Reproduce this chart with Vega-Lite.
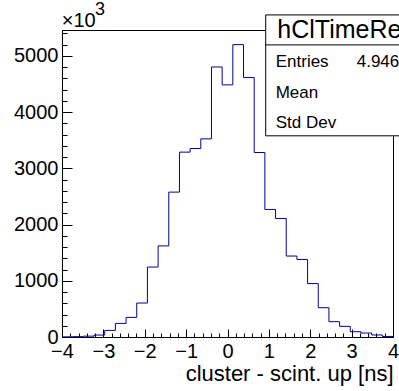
{
  "$schema": "https://vega.github.io/schema/vega-lite/v6.json",
  "width": 331,
  "height": 307,
  "autosize": {"type": "none"},
  "padding": {"left": 62, "top": 30, "right": 6, "bottom": 54},
  "background": "white",
  "config": {
    "font": "Liberation Sans",
    "view": {"stroke": "black", "strokeWidth": 1},
    "axis": {"grid": false, "domainColor": "black", "tickColor": "black", "labelColor": "black", "titleColor": "black", "labelFont": "Liberation Sans", "titleFont": "Liberation Sans", "labelOverlap": false, "labelFlush": false}
  },
  "resolve": {"axis": {"x": "independent", "y": "independent"}},
  "layer": [
    {
      "layer": [
        {
          "data": {"values": [
            {"lo": -4.0, "hi": -3.7419, "n": 3},
            {"lo": -3.7419, "hi": -3.4839, "n": 6},
            {"lo": -3.4839, "hi": -3.2258, "n": 15},
            {"lo": -3.2258, "hi": -2.9677, "n": 35},
            {"lo": -2.9677, "hi": -2.7097, "n": 117},
            {"lo": -2.7097, "hi": -2.4516, "n": 242},
            {"lo": -2.4516, "hi": -2.1935, "n": 349},
            {"lo": -2.1935, "hi": -1.9355, "n": 604},
            {"lo": -1.9355, "hi": -1.6774, "n": 1244},
            {"lo": -1.6774, "hi": -1.4194, "n": 1620},
            {"lo": -1.4194, "hi": -1.1613, "n": 2577},
            {"lo": -1.1613, "hi": -0.9032, "n": 3288},
            {"lo": -0.9032, "hi": -0.6452, "n": 3352},
            {"lo": -0.6452, "hi": -0.3871, "n": 3524},
            {"lo": -0.3871, "hi": -0.129, "n": 4802},
            {"lo": -0.129, "hi": 0.129, "n": 4484},
            {"lo": 0.129, "hi": 0.3871, "n": 5200},
            {"lo": 0.3871, "hi": 0.6452, "n": 4614},
            {"lo": 0.6452, "hi": 0.9032, "n": 3281},
            {"lo": 0.9032, "hi": 1.1613, "n": 2268},
            {"lo": 1.1613, "hi": 1.4194, "n": 2108},
            {"lo": 1.4194, "hi": 1.6774, "n": 1440},
            {"lo": 1.6774, "hi": 1.9355, "n": 1379},
            {"lo": 1.9355, "hi": 2.1935, "n": 950},
            {"lo": 2.1935, "hi": 2.4516, "n": 521},
            {"lo": 2.4516, "hi": 2.7097, "n": 272},
            {"lo": 2.7097, "hi": 2.9677, "n": 189},
            {"lo": 2.9677, "hi": 3.2258, "n": 94},
            {"lo": 3.2258, "hi": 3.4839, "n": 71},
            {"lo": 3.4839, "hi": 3.7419, "n": 36},
            {"lo": 3.7419, "hi": 4.0, "n": 10}
          ]},
          "transform": [{"fold": ["lo", "hi"], "as": ["edge", "xpos"]}],
          "mark": {"type": "line", "color": "#000099", "strokeWidth": 1},
          "encoding": {
            "x": {
              "field": "xpos", "type": "quantitative",
              "scale": {"domain": [-4, 4], "nice": false, "zero": false},
              "axis": {
                "orient": "bottom",
                "values": [-4, -3, -2, -1, 0, 1, 2, 3, 4],
                "labelExpr": "datum.value < 0 ? '\u2212' + abs(datum.value) : '' + datum.value",
                "tickSize": -8,
                "labelOverlap": false,
                "labelFlush": false,
                "labelBound": false,
                "labelFontSize": 20,
                "labelPadding": 12,
                "title": "cluster - scint. up [ns]",
                "titleFontSize": 22,
                "titleFontWeight": "normal",
                "titleAnchor": "end",
                "titleAlign": "right",
                "titleBaseline": "alphabetic",
                "titleX": 331,
                "titleY": 43
              }
            },
            "y": {
              "field": "n", "type": "quantitative",
              "scale": {"domain": [0, 5460], "nice": false},
              "axis": {
                "orient": "left",
                "values": [0, 1000, 2000, 3000, 4000, 5000],
                "labelExpr": "'' + datum.value",
                "tickSize": -10,
                "labelOverlap": false,
                "labelFlush": false,
                "labelBound": false,
                "labelFontSize": 20,
                "labelPadding": 14,
                "title": null
              }
            },
            "order": {"value": null}
          }
        },
        {
          "data": {"values": [{}]},
          "mark": {"type": "rect", "fill": "white", "stroke": "black", "strokeWidth": 1, "clip": false},
          "encoding": {
            "x": {"datum": 0.923, "type": "quantitative"},
            "x2": {"datum": 4.8},
            "y": {"datum": 5728, "type": "quantitative"},
            "y2": {"datum": 3578}
          }
        },
        {
          "data": {"values": [{}]},
          "mark": {"type": "rule", "color": "black", "strokeWidth": 1},
          "encoding": {
            "x": {"datum": 0.923, "type": "quantitative"},
            "x2": {"datum": 4.8},
            "y": {"datum": 5195, "type": "quantitative"}
          }
        },
        {
          "data": {"values": [{"label": "hClTimeResUp"}]},
          "mark": {"type": "text", "align": "left", "baseline": "alphabetic", "fontSize": 25, "color": "black"},
          "encoding": {
            "x": {"datum": 1.204, "type": "quantitative"},
            "y": {"datum": 5320, "type": "quantitative"},
            "text": {"field": "label"}
          }
        },
        {
          "data": {"values": [{"label": "Entries"}]},
          "mark": {"type": "text", "align": "left", "baseline": "alphabetic", "fontSize": 17, "color": "black"},
          "encoding": {
            "x": {"datum": 1.165, "type": "quantitative"},
            "y": {"datum": 4809, "type": "quantitative"},
            "text": {"field": "label"}
          }
        },
        {
          "data": {"values": [{"label": "Mean"}]},
          "mark": {"type": "text", "align": "left", "baseline": "alphabetic", "fontSize": 17, "color": "black"},
          "encoding": {
            "x": {"datum": 1.165, "type": "quantitative"},
            "y": {"datum": 4258, "type": "quantitative"},
            "text": {"field": "label"}
          }
        },
        {
          "data": {"values": [{"label": "Std Dev"}]},
          "mark": {"type": "text", "align": "left", "baseline": "alphabetic", "fontSize": 17, "color": "black"},
          "encoding": {
            "x": {"datum": 1.165, "type": "quantitative"},
            "y": {"datum": 3714, "type": "quantitative"},
            "text": {"field": "label"}
          }
        },
        {
          "data": {"values": [{"label": "4.946e+07"}]},
          "mark": {"type": "text", "align": "left", "baseline": "alphabetic", "fontSize": 17, "color": "black"},
          "encoding": {
            "x": {"datum": 3.123, "type": "quantitative"},
            "y": {"datum": 4809, "type": "quantitative"},
            "text": {"field": "label"}
          }
        },
        {
          "data": {"values": [{"label": "\u00d710"}]},
          "mark": {"type": "text", "align": "left", "baseline": "alphabetic", "fontSize": 20, "color": "black"},
          "encoding": {
            "x": {"datum": -4.007, "type": "quantitative"},
            "y": {"datum": 5520, "type": "quantitative"},
            "text": {"field": "label"}
          }
        },
        {
          "data": {"values": [{"label": "3"}]},
          "mark": {"type": "text", "align": "left", "baseline": "alphabetic", "fontSize": 18, "color": "black"},
          "encoding": {
            "x": {"datum": -3.2024, "type": "quantitative"},
            "y": {"datum": 5728, "type": "quantitative"},
            "text": {"field": "label"}
          }
        }
      ]
    },
    {
      "data": {"values": [{}]},
      "mark": {"type": "point", "opacity": 0},
      "encoding": {
        "x": {
          "datum": 0, "type": "quantitative",
          "axis": {
            "orient": "bottom",
            "values": [-3.8,-3.6,-3.4,-3.2,-2.8,-2.6,-2.4,-2.2,-1.8,-1.6,-1.4,-1.2,-0.8,-0.6,-0.4,-0.2,0.2,0.4,0.6,0.8,1.2,1.4,1.6,1.8,2.2,2.4,2.6,2.8,3.2,3.4,3.6,3.8],
            "tickSize": -4,
            "labels": false,
            "domain": false,
            "title": null
          }
        },
        "y": {
          "datum": 0, "type": "quantitative",
          "axis": {
            "orient": "left",
            "values": [200,400,600,800,1200,1400,1600,1800,2200,2400,2600,2800,3200,3400,3600,3800,4200,4400,4600,4800,5200,5400],
            "tickSize": -5,
            "labels": false,
            "domain": false,
            "title": null
          }
        }
      }
    }
  ]
}
